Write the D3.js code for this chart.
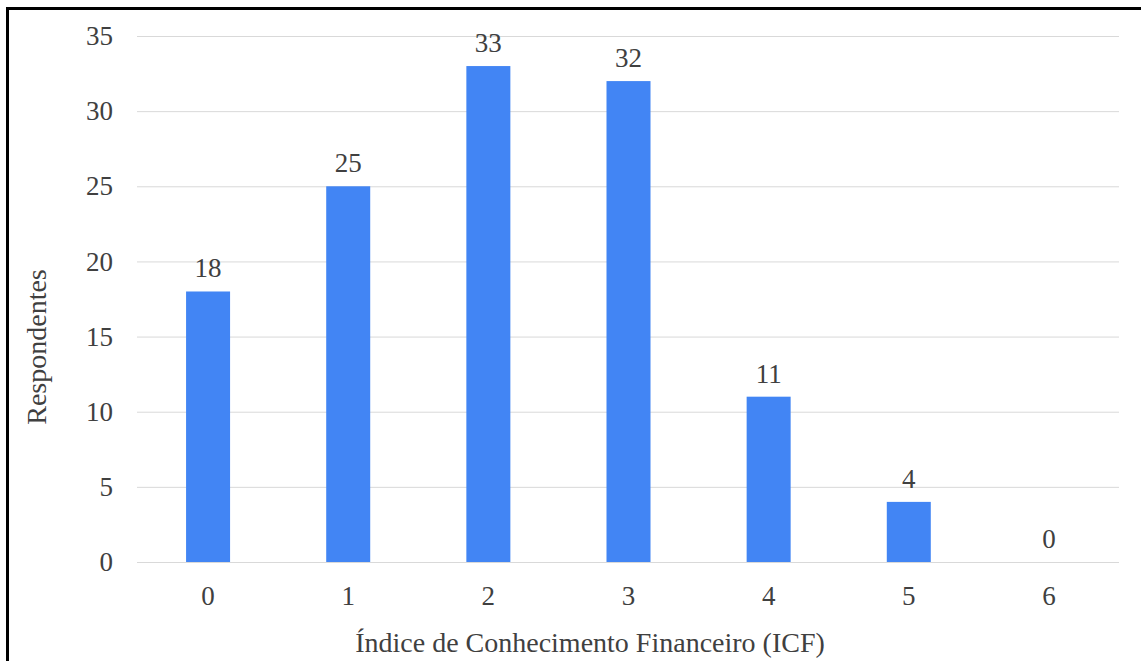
<!DOCTYPE html>
<html>
<head>
<meta charset="utf-8">
<script src="https://cdn.jsdelivr.net/npm/d3@7"></script>
<style>
  html, body { margin: 0; padding: 0; background: #fff; }
  svg { display: block; }
  text { font-family: "Liberation Serif", "Times New Roman", serif; fill: #404040; }
</style>
</head>
<body>
<svg id="chart" width="1141" height="661"></svg>
<script>
// Respondents per financial knowledge index score
const categories = ["0", "1", "2", "3", "4", "5", "6"];
const respondents = [18, 25, 33, 32, 11, 4, 0];
const yTicks = [0, 5, 10, 15, 20, 25, 30, 35];

const svg = d3.select("#chart");
const W = 1141, H = 661;

const x = d3.scaleBand()
  .domain(categories)
  .range([138, 1119])
  .paddingInner(0.686)
  .paddingOuter(0.343);

const y = d3.scaleLinear()
  .domain([0, 35])
  .range([562, 36]);

// frame
svg.append("rect").attr("width", W).attr("height", H).attr("fill", "#fff");
svg.append("path")
  .attr("d", `M7.5,${H + 5} V8.5 H${W + 5}`)
  .attr("fill", "none")
  .attr("stroke", "#000")
  .attr("stroke-width", 3);

// horizontal gridlines + y labels
const yAxis = d3.axisLeft(y)
  .tickValues(yTicks)
  .tickSize(-(x.range()[1] - x.range()[0]) - 1)
  .tickPadding(24)
  .tickFormat(d3.format("d"));

const gy = svg.append("g")
  .attr("transform", `translate(${x.range()[0] - 1},0)`)
  .call(yAxis);
gy.select(".domain").remove();
gy.selectAll(".tick line").attr("stroke", "#d9d9d9").attr("stroke-width", 1);
gy.selectAll(".tick text")
  .attr("font-size", 27)
  .attr("fill", "#404040")
  .attr("font-family", "Liberation Serif, serif");

// bars
svg.append("g").selectAll("rect")
  .data(respondents)
  .join("rect")
  .attr("x", (d, i) => x(categories[i]))
  .attr("width", x.bandwidth())
  .attr("y", d => y(d))
  .attr("height", d => y(0) - y(d))
  .attr("fill", "#4285f4");

// value labels
svg.append("g").selectAll("text")
  .data(respondents)
  .join("text")
  .attr("x", (d, i) => x(categories[i]) + x.bandwidth() / 2)
  .attr("y", d => y(d) - 14)
  .attr("text-anchor", "middle")
  .attr("font-size", 27)
  .text(d => d);

// x axis labels
const xAxis = d3.axisBottom(x).tickSize(0).tickPadding(24);
const gx = svg.append("g")
  .attr("transform", `translate(0,${y(0)})`)
  .call(xAxis);
gx.select(".domain").remove();
gx.selectAll(".tick text")
  .attr("font-size", 27)
  .attr("fill", "#404040")
  .attr("font-family", "Liberation Serif, serif");

// axis titles
svg.append("text")
  .attr("x", 590)
  .attr("y", 652)
  .attr("text-anchor", "middle")
  .attr("font-size", 28)
  .text("Índice de Conhecimento Financeiro (ICF)");

svg.append("text")
  .attr("transform", "translate(46,347) rotate(-90)")
  .attr("text-anchor", "middle")
  .attr("font-size", 28)
  .text("Respondentes");
</script>
</body>
</html>
